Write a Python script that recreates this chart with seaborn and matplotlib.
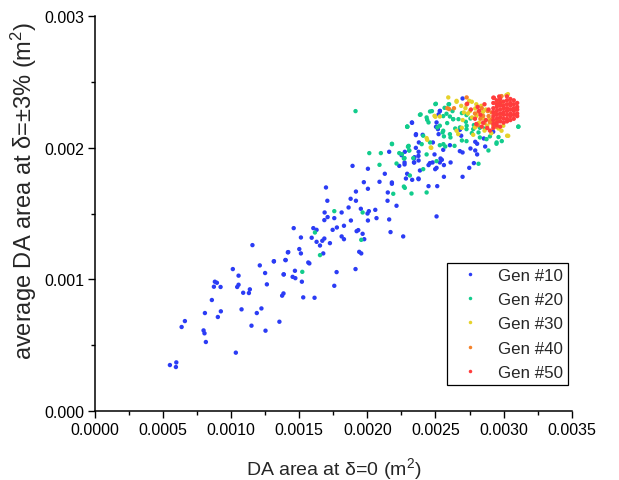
import pandas as pd
import seaborn as sns
import matplotlib
matplotlib.use("Agg")
import matplotlib.pyplot as plt
from matplotlib.ticker import MultipleLocator, FormatStrFormatter

# all areas below are in units of 1e-4 m^2 (converted when the table is built)

gen10_x = [11.56, 14.16, 12.10, 13.13, 13.98, 10.12, 12.49, 13.86, 10.54, 8.80, 8.95, 8.73, 9.22,
           10.54, 10.44, 12.62, 11.37, 10.88, 11.30, 13.84, 13.74, 8.58, 10.76, 9.24, 8.07, 12.22,
           11.88, 9.02, 6.60, 6.36, 13.54, 11.49, 7.97, 8.04, 12.52, 8.14, 10.34, 5.50, 5.97, 5.94,
           21.60, 22.75, 22.51, 23.46, 22.73, 22.73, 22.34, 23.44, 23.75, 18.91, 20.04, 21.28, 22.92,
           22.83, 23.29, 23.75, 19.74, 20.89, 21.80, 21.80, 16.96, 20.04, 19.16, 21.50, 18.77, 19.16,
           21.48, 17.06, 18.62, 19.52, 20.11, 20.58, 22.14, 16.86, 18.11, 20.01, 17.08, 17.57, 20.67,
           16.84, 18.79, 20.04, 21.60, 14.59, 16.03, 16.27, 17.45, 17.76, 18.28, 19.33, 19.21, 19.65,
           21.70, 15.12, 15.91, 18.11, 18.28, 16.27, 16.69, 16.84, 17.25, 16.52, 19.77, 22.63, 15.00,
           15.12, 14.19, 16.76, 19.40, 19.55, 14.00, 13.14, 15.66, 15.74, 13.85, 14.51, 14.71, 17.74,
           19.13, 14.68, 15.19, 17.57, 15.29, 16.12,
           23.78, 24.81, 23.56, 23.76, 24.93, 25.57, 26.06, 25.37, 25.47, 26.79, 26.99, 27.92, 28.06,
           28.65, 27.57, 27.92, 28.06, 23.42, 23.76, 23.42, 24.79, 24.59, 25.32, 25.62, 25.08, 24.98,
           26.11, 24.49, 23.86, 27.82, 27.48, 23.76, 25.62, 26.99, 24.49, 25.13, 25.08,
           26.99, 25.32, 25.23, 23.27, 23.56, 25.08, 25.18, 26.79, 26.89, 29.24, 28.55,
           23.28, 23.57, 24.06, 25.04, 25.23, 25.33]
gen10_y = [12.60, 12.05, 11.06, 11.36, 11.47, 10.78, 10.48, 10.38, 10.28, 9.82, 9.74, 9.44, 9.42,
           9.59, 9.42, 9.62, 9.24, 8.98, 8.96, 8.93, 8.76, 8.43, 7.72, 7.57, 7.44, 7.79,
           7.44, 7.14, 6.83, 6.38, 6.78, 6.48, 6.12, 5.90, 6.10, 5.24, 4.43, 3.49, 3.69, 3.34,
           19.69, 19.69, 19.43, 19.28, 18.88, 18.73, 18.62, 18.88, 19.38, 18.62, 18.40, 18.02, 18.02,
           17.66, 17.56, 17.66, 17.38, 17.41, 17.36, 17.26, 16.98, 16.88, 16.67, 16.60, 16.12, 15.97,
           15.97, 15.97, 15.46, 15.36, 15.18, 15.28, 15.59, 15.08, 15.08, 15.00, 14.73, 14.65, 14.65,
           14.50, 14.47, 14.47, 14.55, 13.89, 13.89, 13.76, 13.76, 13.94, 14.07, 13.74, 13.66, 13.46,
           13.59, 13.18, 13.16, 13.26, 13.05, 12.85, 12.93, 13.10, 12.75, 12.57, 13.05, 13.26, 12.30,
           11.97, 12.07, 11.97, 12.09, 11.97, 11.46, 11.38, 11.28, 11.21, 10.37, 10.19, 10.09, 10.55,
           10.78, 10.65, 9.82, 9.51, 8.63, 8.60,
           20.40, 20.40, 19.99, 19.69, 19.49, 19.84, 20.19, 19.18, 19.08, 19.74, 19.64, 20.45, 20.30,
           20.09, 19.94, 19.79, 19.49, 19.18, 19.03, 18.88, 18.88, 18.83, 18.88, 18.68, 18.47, 18.37,
           18.88, 18.68, 18.27, 18.83, 18.47, 17.61, 17.79, 17.79, 17.08, 17.08, 14.78,
           23.74, 22.78, 22.53, 21.92, 20.96, 21.92, 21.41, 21.36, 20.91, 21.21, 20.70,
           21.89, 21.03, 20.98, 21.59, 21.03, 22.80]

gen20_x = [20.14, 20.99, 22.34, 20.89, 22.14, 22.73, 23.07, 23.12, 22.68, 22.75, 21.90, 23.24, 17.57,
           19.65, 16.15, 19.55, 16.52, 15.22, 19.13, 22.92, 21.80, 23.00,
           23.03, 23.07, 22.68, 24.35, 25.32, 25.72, 26.40, 26.94, 27.28, 28.89, 29.48, 29.87, 28.16,
           25.08, 24.10, 24.35,
           25.03, 23.91, 22.93, 24.39, 24.49, 24.74, 25.96, 25.67, 26.25, 25.81, 26.06, 26.30, 26.69,
           26.94, 27.28, 27.57, 27.23, 27.82, 28.26, 28.65, 26.45, 27.28, 27.67, 28.16, 29.00, 29.63,
           31.09, 25.52, 25.62, 24.10, 25.86, 25.32,
           23.86, 22.93, 21.81, 24.99, 24.60, 24.35, 26.00, 25.14, 24.60, 23.99, 25.58, 26.10, 22.98,
           22.54, 23.37,
           25.57, 26.30, 26.80, 27.29, 27.77, 28.26, 28.75, 29.49, 31.08, 26.06, 25.57]
gen20_y = [19.59, 19.59, 19.59, 18.70, 18.80, 19.21, 19.79, 17.89, 17.05, 16.95, 16.50, 16.52, 15.18,
           15.08, 13.56, 13.00, 11.84, 10.57, 22.78, 21.59, 20.30, 20.10,
           20.14, 19.79, 19.18, 19.49, 20.19, 20.09, 20.14, 20.55, 20.50, 19.79, 20.30, 20.50, 18.78,
           18.98, 18.37, 16.60,
           23.34, 22.53, 21.61, 22.12, 21.92, 22.78, 23.29, 23.03, 22.78, 22.58, 22.37, 22.17, 22.17,
           22.63, 22.48, 22.22, 21.97, 21.72, 21.51, 21.46, 21.46, 21.41, 21.11, 21.16, 20.86, 20.81,
           21.61, 21.16, 20.86, 20.91, 21.87, 21.67,
           22.50, 21.59, 20.27, 23.31, 22.75, 22.30, 23.31, 21.54, 20.40, 20.27, 20.27, 20.78, 20.07,
           19.51, 19.21,
           22.40, 22.17, 21.54, 21.67, 21.41, 20.78, 20.65, 20.40, 21.59, 21.03, 21.29]

gen30_x = [24.69, 24.39, 26.55, 26.89, 27.67, 27.08, 27.53, 27.92, 28.36, 28.50, 28.01, 28.50, 28.94,
           28.80, 29.24, 29.63, 30.21, 29.87, 30.26, 24.93, 25.32, 26.94,
           26.55, 27.48, 27.38, 27.68, 27.90, 29.85, 30.34, 29.98, 26.67, 27.77, 25.94, 30.32,
           24.35, 24.65, 24.99, 26.55, 27.2, 28.0, 28.7, 27.0, 28.2, 29.1, 28.6, 29.5]
gen30_y = [19.99, 20.60, 23.49, 23.18, 23.49, 22.68, 22.78, 22.98, 23.18, 22.73, 22.42, 22.22, 22.12,
           21.67, 21.67, 21.46, 24.00, 23.44, 20.91, 22.42, 22.37, 21.51,
           23.56, 23.56, 22.60, 22.30, 21.54, 21.29, 20.90, 21.67, 21.03, 20.98, 23.82, 24.07,
           20.73, 20.02, 22.35, 21.29, 23.0, 23.3, 22.9, 22.1, 21.9, 21.1, 21.3, 22.0]

gen40_x = [26.01, 27.28, 28.16, 28.50, 28.84, 29.14, 29.38, 29.00, 29.72, 29.48, 28.60, 29.68,
           25.87, 26.36, 29.00, 29.49, 29.78, 27.29, 29.12, 29.85, 28.3, 28.9, 27.9, 28.4, 29.3, 28.1]
gen40_y = [22.93, 23.29, 22.73, 22.42, 22.78, 22.17, 22.58, 21.92, 23.54, 23.39, 21.87, 22.12,
           23.00, 23.00, 22.00, 21.59, 22.50, 23.82, 22.68, 23.92, 22.2, 22.4, 22.6, 23.0, 21.8, 21.7]

gen50_x = [27.33, 29.29, 29.68, 27.6, 27.9, 28.1, 28.3, 28.5, 28.6, 28.7, 28.8, 28.9, 29.0, 28.4, 28.2, 28.0,
           29.25, 29.25, 29.25, 29.25, 29.25, 29.25, 29.25, 29.25,
           29.5, 29.5, 29.5, 29.5, 29.5, 29.5, 29.5, 29.5,
           29.75, 29.75, 29.75, 29.75, 29.75, 29.75, 29.75, 29.75,
           30.0, 30.0, 30.0, 30.0, 30.0, 30.0, 30.0,
           30.25, 30.25, 30.25, 30.25, 30.25, 30.25, 30.25, 30.25,
           30.5, 30.5, 30.5, 30.5, 30.5, 30.5, 30.5,
           30.75, 30.75, 30.75, 30.75, 30.75, 30.75,
           31.0, 31.0, 31.0, 31.0, 31.0]
gen50_y = [23.34, 23.79, 23.89, 22.9, 22.2, 23.1, 22.5, 21.9, 23.3, 22.1, 21.5, 22.9, 21.3, 21.6, 22.8, 21.8,
           23.8, 23.4, 23.0, 22.7, 22.4, 22.1, 21.8, 21.5,
           23.6, 23.3, 23.1, 22.8, 22.5, 22.2, 21.9, 21.7,
           23.7, 23.4, 23.2, 22.9, 22.6, 22.3, 22.0, 21.6,
           23.5, 23.2, 23.0, 22.7, 22.5, 22.2, 21.9,
           23.9, 23.6, 23.3, 23.0, 22.8, 22.5, 22.2, 22.0,
           23.7, 23.4, 23.2, 22.9, 22.6, 22.4, 22.1,
           23.6, 23.3, 23.0, 22.8, 22.5, 22.2,
           23.4, 23.1, 22.9, 22.6, 22.4]

gen_names = ["Gen #10", "Gen #20", "Gen #30", "Gen #40", "Gen #50"]
gen_colors = ["#2b3cf5", "#12cc8c", "#e6d22a", "#f5822a", "#ff3c3c"]

frames = []
for name, xs, ys in zip(gen_names,
                        [gen10_x, gen20_x, gen30_x, gen40_x, gen50_x],
                        [gen10_y, gen20_y, gen30_y, gen40_y, gen50_y]):
    frames.append(pd.DataFrame({"area0": [v * 1e-4 for v in xs],
                                "area3": [v * 1e-4 for v in ys],
                                "gen": name}))
df = pd.concat(frames, ignore_index=True)

sns.set_style("ticks")
plt.rcParams['font.family'] = ['Liberation Sans', 'DejaVu Sans']
plt.rcParams['mathtext.default'] = 'regular'

fig = plt.figure(figsize=(6.19, 4.81), dpi=100)
ax = fig.add_axes([0.1535, 0.1435, 0.770, 0.821])

sns.scatterplot(data=df, x="area0", y="area3", hue="gen", hue_order=gen_names,
                palette=gen_colors, s=10, linewidth=0, ax=ax)

ax.set_xlim(0, 0.0035)
ax.set_ylim(0, 0.003)
ax.xaxis.set_major_locator(MultipleLocator(0.0005))
ax.xaxis.set_minor_locator(MultipleLocator(0.00025))
ax.yaxis.set_major_locator(MultipleLocator(0.001))
ax.yaxis.set_minor_locator(MultipleLocator(0.0005))
ax.xaxis.set_major_formatter(FormatStrFormatter("%.4f"))
ax.yaxis.set_major_formatter(FormatStrFormatter("%.3f"))
ax.tick_params(which="major", direction="out", length=5, width=1, colors="black",
               labelsize=11.5, pad=3)
ax.tick_params(which="minor", direction="out", length=3, width=1, colors="black")
for side in ["top", "right"]:
    ax.spines[side].set_visible(False)
for side in ["left", "bottom"]:
    ax.spines[side].set_color("black")
    ax.spines[side].set_linewidth(1.1)

ax.set_xlabel("DA area at δ=0 (m$^{2}$)", fontsize=14, labelpad=13)
ax.set_ylabel("average DA area at δ=±3% (m$^{2}$)", fontsize=17)
ax.yaxis.set_label_coords(-0.117, 0.56)

handles, labels = ax.get_legend_handles_labels()
leg = ax.legend(handles, labels, loc="upper left", bbox_to_anchor=(0.738, 0.375),
                borderaxespad=0, fontsize=12.2, frameon=True, fancybox=False,
                edgecolor="black", framealpha=1, handlelength=2.2, handletextpad=0.55,
                labelspacing=0.55, borderpad=0.28, markerscale=0.8)
leg.get_frame().set_linewidth(0.9)

fig.savefig("out.png", dpi=100)
